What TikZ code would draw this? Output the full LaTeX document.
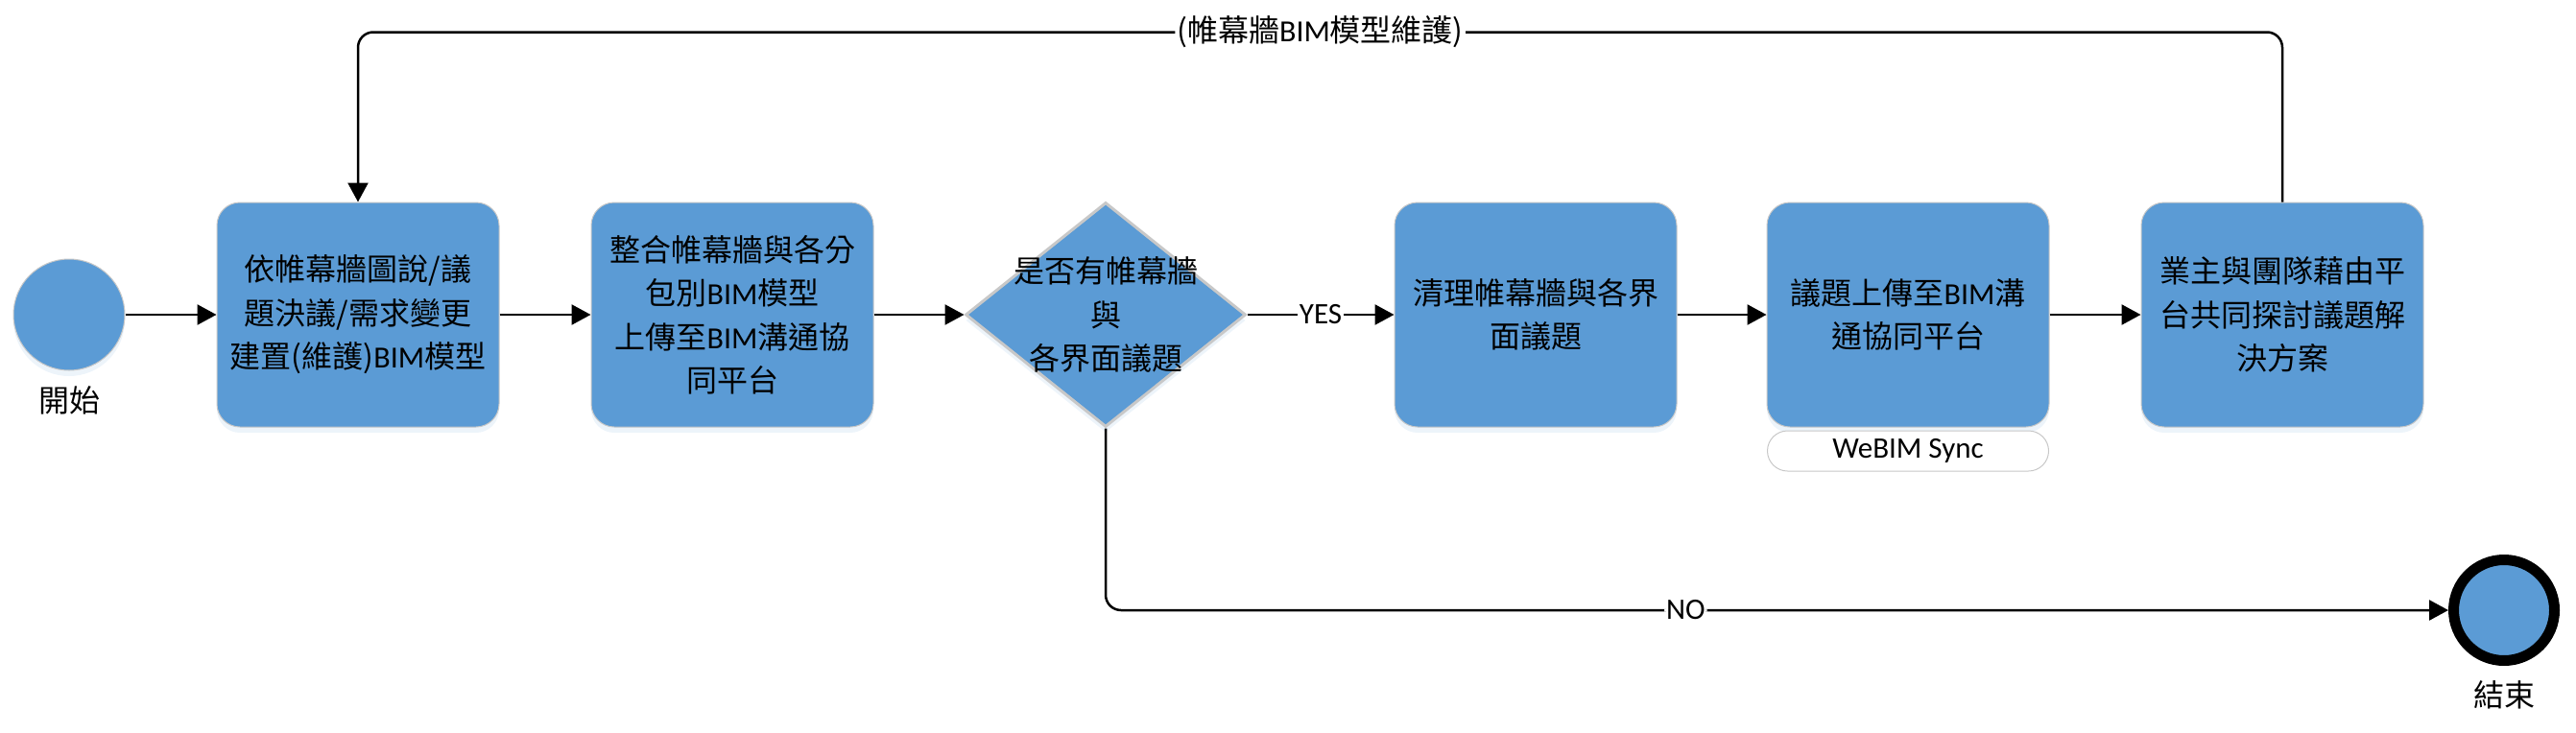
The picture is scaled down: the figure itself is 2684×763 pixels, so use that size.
\documentclass[tikz,border=0pt]{standalone}
\usepackage{fontspec}
\setmainfont{Noto Sans CJK TC}
\newfontfamily\latf{Carlito}
\usetikzlibrary{arrows.meta,shapes.geometric,shadows}
\definecolor{boxblue}{HTML}{5B9BD5}
\definecolor{rimgray}{HTML}{C8C8C8}
\newcommand{\bimtxt}{{\latf BIM}}
\begin{document}
\begin{tikzpicture}[x=1pt,y=-1pt,
  txt/.style={font=\fontsize{32}{45.5}\selectfont, align=center},
  glow/.style={drop shadow={shadow xshift=0pt,shadow yshift=-6pt,opacity=0.18,fill=boxblue!60}},
  stepbox/.style={txt, draw=rimgray, line width=1pt, fill=boxblue, glow, rounded corners=24pt,
    minimum width=294pt, minimum height=234pt, inner sep=0pt, text width=285pt},
  flow/.style={line width=2.5pt, -{Triangle[length=20pt,width=21pt]}},
  plain/.style={line width=2.5pt},
  lbl/.style={fill=white, inner xsep=2pt, inner ysep=1pt, font=\latf\fontsize{31}{31}\selectfont},
  cjklbl/.style={fill=white, inner xsep=2pt, inner ysep=1pt, font=\fontsize{32}{32}\selectfont}
]
\useasboundingbox (0,0) rectangle (2684,763);

% start
\node[circle, draw=rimgray, line width=1pt, fill=boxblue, glow, minimum size=116pt, inner sep=0pt] (start) at (72,328) {};
\node[txt] (startlbl) at (72,417) {開始};

% boxes
\node[stepbox] (b1) at (373,328) {依帷幕牆圖說/議\\題決議/需求變更\\建置(維護)\bimtxt 模型};
\node[stepbox] (b2) at (763,328) {整合帷幕牆與各分\\包別\bimtxt 模型\\上傳至\bimtxt 溝通協\\同平台};
\node[diamond, draw=rimgray, line width=3pt, fill=boxblue, glow, minimum width=292pt, minimum height=234pt, inner sep=0pt] (dec) at (1152,328) {};
\node[txt] (dectxt) at (dec.center) {是否有帷幕牆\\與\\各界面議題};
\node[stepbox] (b3) at (1600,328) {清理帷幕牆與各界\\面議題};
\node[stepbox] (b4) at (1988,328) {議題上傳至\bimtxt 溝\\通協同平台};
\node[draw=rimgray, line width=1pt, fill=white, rounded corners=21pt, minimum width=293pt, minimum height=42pt, inner sep=0pt,
  font=\latf\fontsize{31}{31}\selectfont] (sync) at (1988,470) {WeBIM Sync};
\node[stepbox] (b5) at (2378,328) {業主與團隊藉由平\\台共同探討議題解\\決方案};

% end
\node[circle, draw=black, line width=11pt, fill=boxblue, minimum size=105pt, inner sep=0pt] (endc) at (2609,636) {};
\node[txt] (endlbl) at (2609,724) {結束};

% connectors
\draw[flow] (start) -- (b1);
\draw[flow] (b1) -- (b2);
\draw[flow] (b2) -- (dec);
\draw[flow] (dec) -- node[lbl]{YES} (b3);
\draw[flow] (b3) -- (b4);
\draw[flow] (b4) -- (b5);
\draw[flow, rounded corners=16pt] (b5.north) -- ++(0,-177) -| node[cjklbl, pos=0.25]{(帷幕牆\bimtxt 模型維護)} (b1.north);
\draw[flow, rounded corners=16pt] (dec.south) |- node[lbl, pos=0.716]{NO} (endc.west);
\end{tikzpicture}
\end{document}
